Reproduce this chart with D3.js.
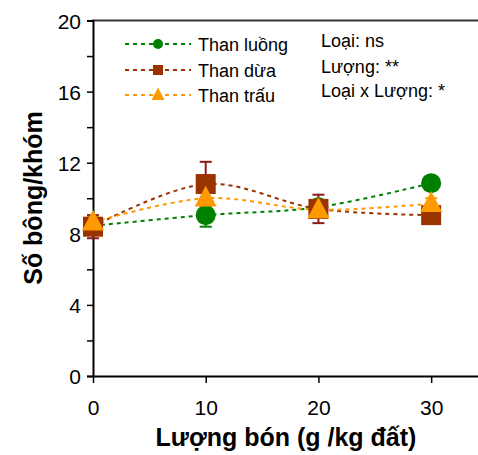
<!DOCTYPE html>
<html>
<head>
<meta charset="utf-8">
<script src="https://cdn.jsdelivr.net/npm/d3@7"></script>
<style>
  body { margin: 0; background: #fff; }
  text { font-family: Arial, "Liberation Sans", sans-serif; fill: #000; }
</style>
</head>
<body>
<svg></svg>
<script>
const doses = [0, 10, 20, 30];
const seriesNames = ["Than luồng", "Than dừa", "Than trấu"];
const luong = [8.45, 9.05, 9.5, 10.85];
const dua = [8.4, 10.8, 9.4, 9.05];
const trau = [8.65, 10.0, 9.35, 9.7];
const luongErr = [0.3, 0.65, 0.3, 0.2];
const duaErr = [0.65, 1.25, 0.8, 0.3];
const trauErr = [0.3, 0.5, 0.35, 0.3];
const yTicks = [0, 2, 4, 6, 8, 10, 12, 14, 16, 18, 20];
const stats = ["Loại: ns", "Lượng: **", "Loại x Lượng: *"];

let width = 478,
    height = 455;

const svg = d3.select("svg")
    .attr("width", width)
    .attr("height", height);

const x = d3.scaleLinear().domain([0, 35]).range([93, 487.5]);
const y = d3.scaleLinear().domain([0, 20]).range([376, 20.5]);

const series = [
    { name: seriesNames[0], values: luong, err: luongErr, color: "#008000", errColor: "#008000", shape: "circle" },
    { name: seriesNames[1], values: dua, err: duaErr, color: "#993300", errColor: "#8B1A1A", shape: "square" },
    { name: seriesNames[2], values: trau, err: trauErr, color: "#FF9900", errColor: "#FF9900", shape: "triangle" }
];

// khung tren
svg.append("line")
    .attr("x1", x(0) - 1).attr("x2", width)
    .attr("y1", y(20)).attr("y2", y(20))
    .attr("stroke", "#333").attr("stroke-width", 2);

// truc y
const yAxis = svg.append("g")
    .attr("transform", `translate(${x(0)},0)`)
    .call(d3.axisLeft(y).tickValues(yTicks).tickSize(6).tickPadding(6)
        .tickFormat(d => d % 4 === 0 ? d : ""));
yAxis.select(".domain").attr("stroke", "#000").attr("stroke-width", 2);
yAxis.selectAll(".tick line").attr("stroke", "#000").attr("stroke-width", 1.5);
yAxis.selectAll("text").style("font-size", "21px").attr("dy", "0.36em");

// truc x
const xAxis = svg.append("g")
    .attr("transform", `translate(0,${y(0)})`)
    .call(d3.axisBottom(x).tickValues(doses).tickSize(7).tickPadding(17).tickSizeOuter(0));
xAxis.select(".domain").attr("stroke", "#000").attr("stroke-width", 2);
xAxis.selectAll(".tick line").attr("stroke", "#000").attr("stroke-width", 1.5);
xAxis.selectAll("text").style("font-size", "21px");

// duong noi
const line = d3.line()
    .x((d, i) => x(doses[i]))
    .y(d => y(d))
    .curve(d3.curveCatmullRom.alpha(0.5));

series.forEach(s => {
    svg.append("path")
        .attr("d", line(s.values))
        .attr("fill", "none")
        .attr("stroke", s.color)
        .attr("stroke-width", 2)
        .attr("stroke-dasharray", "4,4");
});

// sai so
series.forEach(s => {
    const g = svg.append("g").attr("stroke", s.errColor).attr("stroke-width", 2);
    s.values.forEach((v, i) => {
        const cx = x(doses[i]);
        const lo = y(v - s.err[i]), hi = y(v + s.err[i]);
        g.append("line").attr("x1", cx).attr("x2", cx).attr("y1", lo).attr("y2", hi);
        g.append("line").attr("x1", cx - 6).attr("x2", cx + 6).attr("y1", lo).attr("y2", lo);
        g.append("line").attr("x1", cx - 6).attr("x2", cx + 6).attr("y1", hi).attr("y2", hi);
    });
});

function marker(g, shape, cx, cy, size, color) {
    if (shape === "circle") {
        g.append("circle").attr("cx", cx).attr("cy", cy).attr("r", size / 2).attr("fill", color);
    } else if (shape === "square") {
        g.append("rect").attr("x", cx - size / 2).attr("y", cy - size / 2)
            .attr("width", size).attr("height", size).attr("fill", color);
    } else {
        const h = size * 0.95;
        g.append("path")
            .attr("d", `M${cx},${cy - h * 0.6}L${cx + size / 2},${cy + h * 0.4}L${cx - size / 2},${cy + h * 0.4}Z`)
            .attr("fill", color);
    }
}

// diem
series.forEach(s => {
    const g = svg.append("g");
    s.values.forEach((v, i) => marker(g, s.shape, x(doses[i]), y(v), s.shape === "triangle" ? 22 : 20, s.color));
});

// chu giai
const legendY = [44, 70, 95];
series.forEach((s, i) => {
    svg.append("line")
        .attr("x1", 125).attr("x2", 191)
        .attr("y1", legendY[i]).attr("y2", legendY[i])
        .attr("stroke", s.color).attr("stroke-width", 2)
        .attr("stroke-dasharray", "4,4");
    marker(svg, s.shape, 158, legendY[i], s.shape === "triangle" ? 13 : 10, s.color);
    svg.append("text")
        .attr("x", 198).attr("y", legendY[i] + 7)
        .style("font-size", "18px")
        .text(s.name);
});

svg.append("g").selectAll("text")
    .data(stats)
    .enter()
    .append("text")
    .attr("x", 321)
    .attr("y", (d, i) => [47, 73, 97][i])
    .style("font-size", "18px")
    .text(d => d);

// ten truc
svg.append("text")
    .attr("x", 286).attr("y", 446)
    .attr("text-anchor", "middle")
    .style("font-size", "25px").style("font-weight", "bold")
    .text("Lượng bón (g /kg đất)");

svg.append("text")
    .attr("transform", "translate(42,198) rotate(-90)")
    .attr("text-anchor", "middle")
    .style("font-size", "25px").style("font-weight", "bold")
    .text("Số bông/khóm");
</script>
</body>
</html>
